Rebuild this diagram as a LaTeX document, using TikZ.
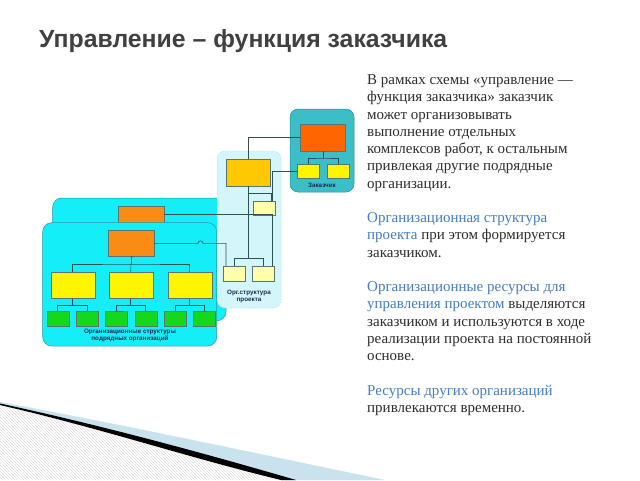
\documentclass[tikz,border=0pt]{standalone}
\usepackage{fontspec}
\setmainfont{Liberation Serif}
\setsansfont{Liberation Sans}
\usetikzlibrary{patterns}
\definecolor{titlegray}{RGB}{64,64,64}
\definecolor{txtdark}{RGB}{45,45,45}
\definecolor{txtblue}{RGB}{70,125,190}
\definecolor{tealpanel}{RGB}{60,190,200}
\definecolor{tealborder}{RGB}{40,140,150}
\definecolor{cyanpanel}{RGB}{20,238,248}
\definecolor{cyanborder}{RGB}{40,150,170}
\definecolor{orgpanel}{RGB}{210,246,250}
\definecolor{orgborder}{RGB}{160,215,225}
\definecolor{redorange}{RGB}{255,102,0}
\definecolor{darkorange}{RGB}{248,140,20}
\definecolor{gold}{RGB}{255,200,0}
\definecolor{yel}{RGB}{255,245,0}
\definecolor{paleyel}{RGB}{255,255,170}
\definecolor{grn}{RGB}{20,215,30}
\definecolor{linec}{RGB}{50,80,80}
\definecolor{lbl}{RGB}{30,40,80}
\definecolor{bandblue}{RGB}{200,226,238}
\definecolor{hatchc}{RGB}{220,220,220}
\begin{document}
\begin{tikzpicture}[x=1pt,y=-1pt,
  panel/.style={draw, rounded corners=9pt, inner sep=0pt, line width=0.5pt},
  box/.style={draw=linec!80, inner sep=0pt, line width=0.4pt},
  conn/.style={draw=linec, line width=0.55pt},
  lab/.style={font=\sffamily\bfseries\fontsize{6.3}{7.6}\selectfont, text=lbl, align=center, inner sep=0pt}]
\useasboundingbox (0,0) rectangle (640,480);
\fill[white] (0,0) rectangle (640,480);

% bottom-left decoration
\fill[pattern=north west lines, pattern color=hatchc] (0,405) .. controls (100,428) and (190,458) .. (281,480) -- (0,480) -- cycle;
\fill[bandblue] (0,402) .. controls (120,424) and (250,452) .. (385,480) -- (285,480) .. controls (200,456) and (100,428) .. (0,405) -- cycle;
\fill[black] (0,403.5) .. controls (100,425) and (200,452) .. (296,480) -- (281,480) .. controls (190,458) and (100,428) .. (0,405) -- cycle;

% title
\node[anchor=base west, inner sep=0pt, font=\sffamily\bfseries\fontsize{24.8}{28}\selectfont, text=titlegray] (title) at (39,47.5) {Управление – функция заказчика};

% body text
\node[anchor=north west, inner sep=0pt, align=left, text=txtdark, font=\fontsize{15}{17.25}\selectfont] (body) at (367,74.5) {%
В рамках схемы «управление —\\
функция заказчика» заказчик\\
может организовывать\\
выполнение отдельных\\
комплексов работ, к остальным\\
привлекая другие подрядные\\
организации.\\[17.25pt]
\textcolor{txtblue}{Организационная структура}\\
\textcolor{txtblue}{проекта} при этом формируется\\
заказчиком.\\[17.25pt]
\textcolor{txtblue}{Организационные ресурсы для}\\
\textcolor{txtblue}{управления проектом} выделяются\\
заказчиком и используются в ходе\\
реализации проекта на постоянной\\
основе.\\[17.25pt]
\textcolor{txtblue}{Ресурсы других организаций}\\
привлекаются временно.};

% back panel
\node[panel, draw=cyanborder, fill=cyanpanel, minimum width=173.3pt, minimum height=122.7pt] (back) at (139.35,259.35) {};
\node[box, fill=darkorange, minimum width=46pt, minimum height=17pt] (BO) at (141,214.2) {};

% front panel
\node[panel, draw=cyanborder, fill=cyanpanel, minimum width=174pt, minimum height=123.3pt] (front) at (129.7,284.35) {};
\node[box, fill=darkorange, minimum width=46pt, minimum height=25.5pt] (FO) at (131,243.3) {};
\foreach \i/\x in {1/72.7,2/130.7,3/189.7}
  \node[box, fill=yel, minimum width=44pt, minimum height=26.7pt] (Y\i) at (\x,285.3) {};
\foreach \i/\x in {1/57.7,2/87,3/116.3,4/145.7,5/175,6/204.3}
  \node[box, fill=grn, minimum width=22pt, minimum height=15pt] (Gr\i) at (\x,318.2) {};
\node[lab] (flab) at (130,335.3) {Организационные структуры\\подрядных организаций};

\coordinate (fj) at (131,264);
\draw[conn] (FO.south) -- (fj);
\draw[conn] (Y1.north) |- (fj) -| (Y3.north);
\draw[conn] (fj) -- (Y2.north);
\draw[conn] (Y1.south) -- ++(0,6.3) coordinate (yj1);
\draw[conn] (Gr1.north) |- (yj1) -| (Gr2.north);
\draw[conn] (Y2.south) -- ++(0,6.3) coordinate (yj2);
\draw[conn] (Gr3.north) |- (yj2) -| (Gr4.north);
\draw[conn] (Y3.south) -- ++(0,6.3) coordinate (yj3);
\draw[conn] (Gr5.north) |- (yj3) -| (Gr6.north);

% org panel
\node[panel, rounded corners=8pt, draw=orgborder, densely dotted, fill=orgpanel, minimum width=64pt, minimum height=157pt] (org) at (249,229.5) {};
\node[box, fill=gold, minimum width=44pt, minimum height=27pt] (G) at (248,172.5) {};
\node[box, fill=paleyel, minimum width=22pt, minimum height=14pt] (P1) at (264,208) {};
\node[box, fill=paleyel, minimum width=22pt, minimum height=15pt] (P2) at (234,273.5) {};
\node[box, fill=paleyel, minimum width=22pt, minimum height=15pt] (P3) at (263,273.5) {};
\node[lab] (olab) at (249,296.5) {Орг.структура\\проекта};

% customer panel
\node[panel, rounded corners=8pt, draw=tealborder, fill=tealpanel, minimum width=64pt, minimum height=83pt] (cust) at (322,150.5) {};
\node[box, fill=redorange, minimum width=45pt, minimum height=27pt] (ZO) at (323,137.5) {};
\node[box, fill=yel, minimum width=22pt, minimum height=14pt] (ZY1) at (308,171) {};
\node[box, fill=yel, minimum width=22pt, minimum height=14pt] (ZY2) at (338,171) {};
\node[lab] (clab) at (322,185) {Заказчик};
\coordinate (zj) at (323,158);
\draw[conn] (ZO.south) -- (zj);
\draw[conn] (ZY1.north) |- (zj) -| (ZY2.north);

% connectors
\draw[conn] (ZO.west) -| (G.north);
\draw[conn] (ZY1.west) -| ([xshift=8pt]P1.north);
\coordinate (g1) at (248,193);
\coordinate (gj) at (248,258.5);
\draw[conn] (G.south) -- (gj);
\draw[conn] (g1) -| ([xshift=7pt]P1.north);
\draw[conn] (P2.north) |- (gj) -| (P3.north);
\draw[conn] (BO.east) -| ([xshift=9pt]P3.north);
\draw[conn] (FO.east) -- (198,243.3) arc[start angle=180, end angle=360, radius=2.5] -| ([xshift=-8pt]P2.north);
\end{tikzpicture}
\end{document}
